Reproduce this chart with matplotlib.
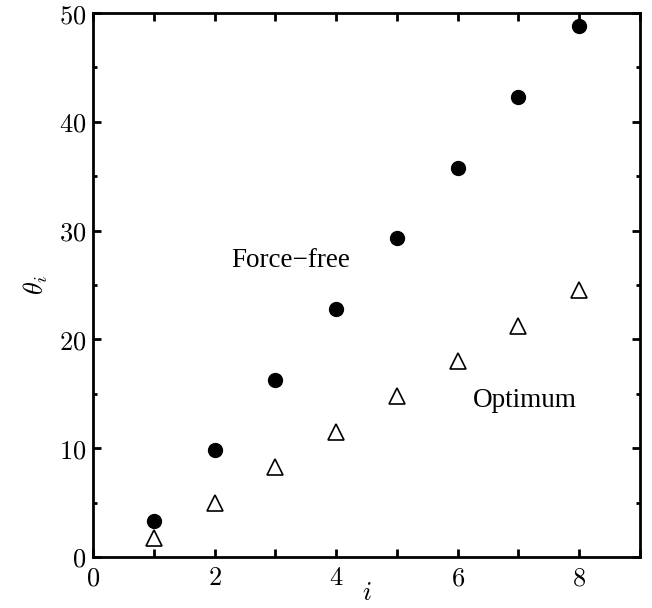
import matplotlib
matplotlib.use('Agg')
import matplotlib.pyplot as plt
from matplotlib.ticker import MultipleLocator, FuncFormatter

# data
i_vals = [1, 2, 3, 4, 5, 6, 7, 8]
force_free = [3.3, 9.8, 16.3, 22.8, 29.3, 35.8, 42.3, 48.8]
optimum = [1.7, 5.0, 8.3, 11.5, 14.8, 18.0, 21.2, 24.5]

plt.rcParams['mathtext.fontset'] = 'cm'

fig = plt.figure(figsize=(6.52, 6.08), dpi=100)
ax = fig.add_axes([0.1426, 0.0839, 0.8390, 0.8947])

ax.plot(i_vals, force_free, 'o', color='black', markersize=10, clip_on=False)
ax.plot(i_vals, optimum, '^', markerfacecolor='white', markeredgecolor='black',
        markersize=11, markeredgewidth=1.2, clip_on=False)

ax.set_xlim(0, 9)
ax.set_ylim(0, 50)

ax.xaxis.set_major_locator(MultipleLocator(2))
ax.xaxis.set_minor_locator(MultipleLocator(1))
ax.yaxis.set_major_locator(MultipleLocator(10))
ax.yaxis.set_minor_locator(MultipleLocator(5))

fmt = FuncFormatter(lambda v, p: r'$%g$' % v)
ax.xaxis.set_major_formatter(fmt)
ax.yaxis.set_major_formatter(fmt)

for s in ax.spines.values():
    s.set_linewidth(2)

ax.tick_params(which='both', direction='in', top=True, right=True, width=2, labelsize=19)
ax.tick_params(axis='x', which='major', length=6, pad=6)
ax.tick_params(axis='x', which='minor', length=6)
ax.tick_params(axis='y', which='major', length=6, pad=5)
ax.tick_params(axis='y', which='minor', length=3)

ax.set_xlabel(r'$i$', fontsize=19, labelpad=-8)
ax.set_ylabel(r'$\theta_i$', fontsize=19, labelpad=6)

ax.text(2.27, 26.7, 'Force\u2212free', fontsize=19.5, family='Liberation Serif')
ax.text(6.25, 13.8, 'Optimum', fontsize=19.5, family='Liberation Serif')

fig.savefig('out.png', dpi=100)
